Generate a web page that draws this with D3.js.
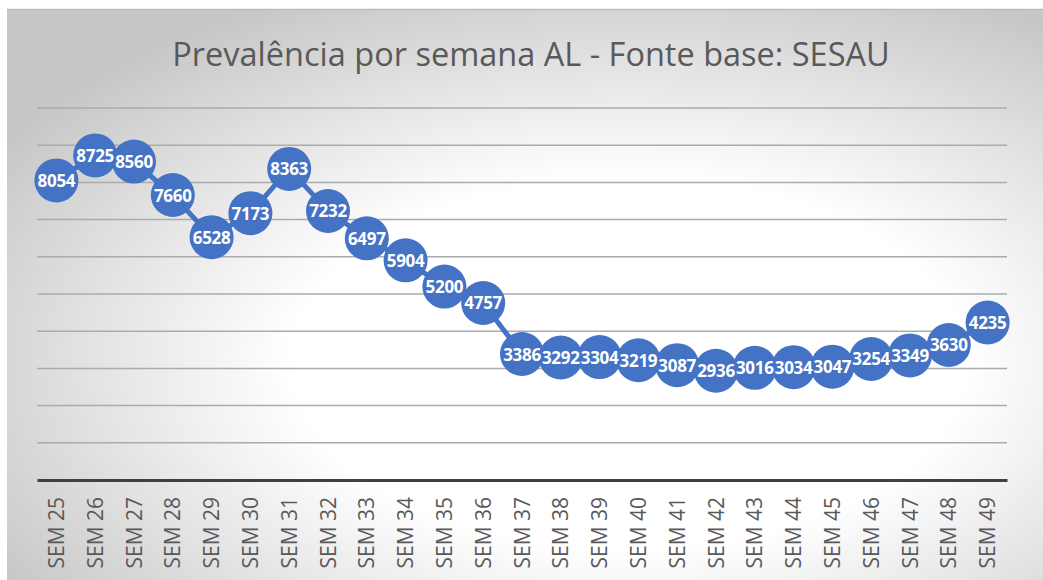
<!DOCTYPE html>
<html>
<head>
<meta charset="utf-8">
<script src="https://cdn.jsdelivr.net/npm/d3@7"></script>
<style>
  body { margin: 0; background: #fff; }
  svg { display: block; }
</style>
</head>
<body>
<script>
// weeks and weekly prevalence values (AL, source SESAU)
var weeks = ["SEM 25", "SEM 26", "SEM 27", "SEM 28", "SEM 29", "SEM 30", "SEM 31", "SEM 32", "SEM 33",
    "SEM 34", "SEM 35", "SEM 36", "SEM 37", "SEM 38", "SEM 39", "SEM 40", "SEM 41", "SEM 42", "SEM 43",
    "SEM 44", "SEM 45", "SEM 46", "SEM 47", "SEM 48", "SEM 49"];
var cases = [8054, 8725, 8560, 7660, 6528, 7173, 8363, 7232, 6497, 5904, 5200, 4757, 3386,
    3292, 3304, 3219, 3087, 2936, 3016, 3034, 3047, 3254, 3349, 3630, 4235];
var gridValues = [1000, 2000, 3000, 4000, 5000, 6000, 7000, 8000, 9000, 10000];

var W = 1043, H = 580;
var margin = { top: 108, bottom: 100, left: 37, right: 36 };

var svg = d3.select("body").append("svg")
    .attr("width", W)
    .attr("height", H);

// background with radial gradient like the office chart
var defs = svg.append("defs");
var grad = defs.append("radialGradient")
    .attr("id", "bg")
    .attr("cx", 0.6).attr("cy", 0.62).attr("r", 0.72);
grad.append("stop").attr("offset", 0).attr("stop-color", "#ffffff");
grad.append("stop").attr("offset", 0.45).attr("stop-color", "#ffffff");
grad.append("stop").attr("offset", 1).attr("stop-color", "#c6c6c6");

svg.append("rect")
    .attr("x", 7).attr("y", 9)
    .attr("width", W - 7).attr("height", H - 9)
    .attr("fill", "url(#bg)");
svg.append("line")
    .attr("x1", 7).attr("x2", W)
    .attr("y1", 9.5).attr("y2", 9.5)
    .attr("stroke", "#bdbdbd")
    .attr("stroke-width", 1.5);

var x = d3.scaleBand()
    .domain(weeks)
    .range([margin.left, W - margin.right]);

var y = d3.scaleLinear()
    .domain([0, 10000])
    .range([480, margin.top]);

// title
svg.append("text")
    .attr("x", 531)
    .attr("y", 66)
    .attr("text-anchor", "middle")
    .style("font-family", "'Open Sans', sans-serif")
    .style("font-size", "32.5px")
    .style("fill", "#595959")
    .text("Prevalência por semana AL - Fonte base: SESAU");

// horizontal gridlines
svg.append("g").selectAll("line")
    .data(gridValues)
    .enter()
    .append("line")
    .attr("x1", margin.left)
    .attr("x2", W - margin.right)
    .attr("y1", function(d) { return y(d); })
    .attr("y2", function(d) { return y(d); })
    .attr("stroke", "#ababab")
    .attr("stroke-width", 1.5);

// x axis
var xAxis = svg.append("g")
    .attr("transform", "translate(0," + y(0) + ")")
    .call(d3.axisBottom(x).tickSize(0).tickPadding(0));
xAxis.select(".domain")
    .attr("stroke", "#404040")
    .attr("stroke-width", 3);
xAxis.selectAll("text")
    .attr("transform", "rotate(-90)")
    .attr("x", -17)
    .attr("y", 0)
    .attr("dy", "0.36em")
    .attr("text-anchor", "end")
    .style("font-family", "'Open Sans', sans-serif")
    .style("font-size", "21px")
    .style("fill", "#595959");

var cx = function(i) { return x(weeks[i]) + x.bandwidth() / 2; };

// line
var line = d3.line()
    .x(function(d, i) { return cx(i); })
    .y(function(d) { return y(d); });

svg.append("path")
    .datum(cases)
    .attr("d", line)
    .attr("fill", "none")
    .attr("stroke", "#4472c4")
    .attr("stroke-width", 5);

// markers first, then all labels on top of them
svg.append("g").selectAll("circle")
    .data(cases)
    .enter()
    .append("circle")
    .attr("cx", function(d, i) { return cx(i); })
    .attr("cy", function(d) { return y(d); })
    .attr("r", 22)
    .attr("fill", "#4472c4");

svg.append("g").selectAll("text")
    .data(cases)
    .enter()
    .append("text")
    .attr("x", function(d, i) { return cx(i); })
    .attr("y", function(d) { return y(d); })
    .attr("text-anchor", "middle")
    .attr("dy", "0.38em")
    .style("font-family", "'Open Sans', sans-serif")
    .style("font-weight", "bold")
    .style("font-size", "17px")
    .style("letter-spacing", "-0.3px")
    .style("fill", "#ffffff")
    .text(function(d) { return d; });
</script>
</body>
</html>
